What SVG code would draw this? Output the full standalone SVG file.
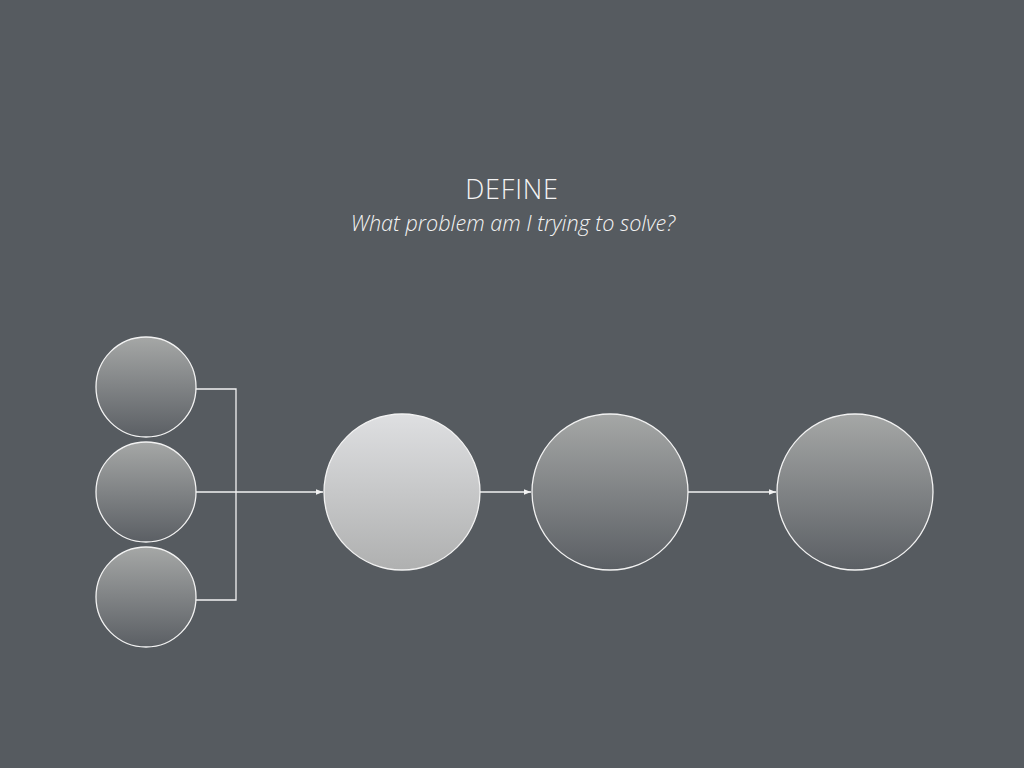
<svg xmlns="http://www.w3.org/2000/svg" width="1024" height="768" viewBox="0 0 1024 768">
<style>
.node{stroke:#f2f2f2;stroke-width:1.3}
.dark{fill:url(#gDark)}
.light{fill:url(#gLight)}
.conn{fill:none;stroke:#f2f2f2;stroke-width:1.3}
.title{font-family:"Open Sans","Liberation Sans",sans-serif;font-weight:300;fill:#f4f4f4}
</style>
<defs>
<linearGradient id="gDark" x1="0" y1="0" x2="0" y2="1">
<stop offset="0" stop-color="#a5a7a6"/>
<stop offset="1" stop-color="#5b5f64"/>
</linearGradient>
<linearGradient id="gLight" x1="0" y1="0" x2="0" y2="1">
<stop offset="0" stop-color="#dedfe1"/>
<stop offset="1" stop-color="#afb0b0"/>
</linearGradient>
<marker id="arr" viewBox="0 0 10 10" refX="10" refY="5" markerWidth="7" markerHeight="7" markerUnits="userSpaceOnUse" orient="auto">
<path d="M0,1 L10,5 L0,9 z" fill="#f2f2f2"/>
</marker>
</defs>
<rect width="1024" height="768" fill="#565b60"/>
<text class="title" x="512" y="199" font-size="27" letter-spacing="0.8" text-anchor="middle">DEFINE</text>
<text class="title" x="513" y="231" font-size="21.6" font-style="italic" text-anchor="middle">What problem am I trying to solve?</text>
<g id="connectors">
<polyline class="conn" points="196,389 236,389 236,600 196,600"/>
<line class="conn" x1="196" y1="492" x2="323" y2="492" marker-end="url(#arr)"/>
<line class="conn" x1="480" y1="492" x2="531" y2="492" marker-end="url(#arr)"/>
<line class="conn" x1="688" y1="492" x2="776" y2="492" marker-end="url(#arr)"/>
</g>
<g id="in1"><circle class="node dark" cx="146" cy="387" r="50"/></g>
<g id="in2"><circle class="node dark" cx="146" cy="492" r="50"/></g>
<g id="in3"><circle class="node dark" cx="146" cy="597" r="50"/></g>
<g id="step1"><circle class="node light" cx="402" cy="492" r="78"/></g>
<g id="step2"><circle class="node dark" cx="610" cy="492" r="78"/></g>
<g id="step3"><circle class="node dark" cx="855" cy="492" r="78"/></g>
</svg>
